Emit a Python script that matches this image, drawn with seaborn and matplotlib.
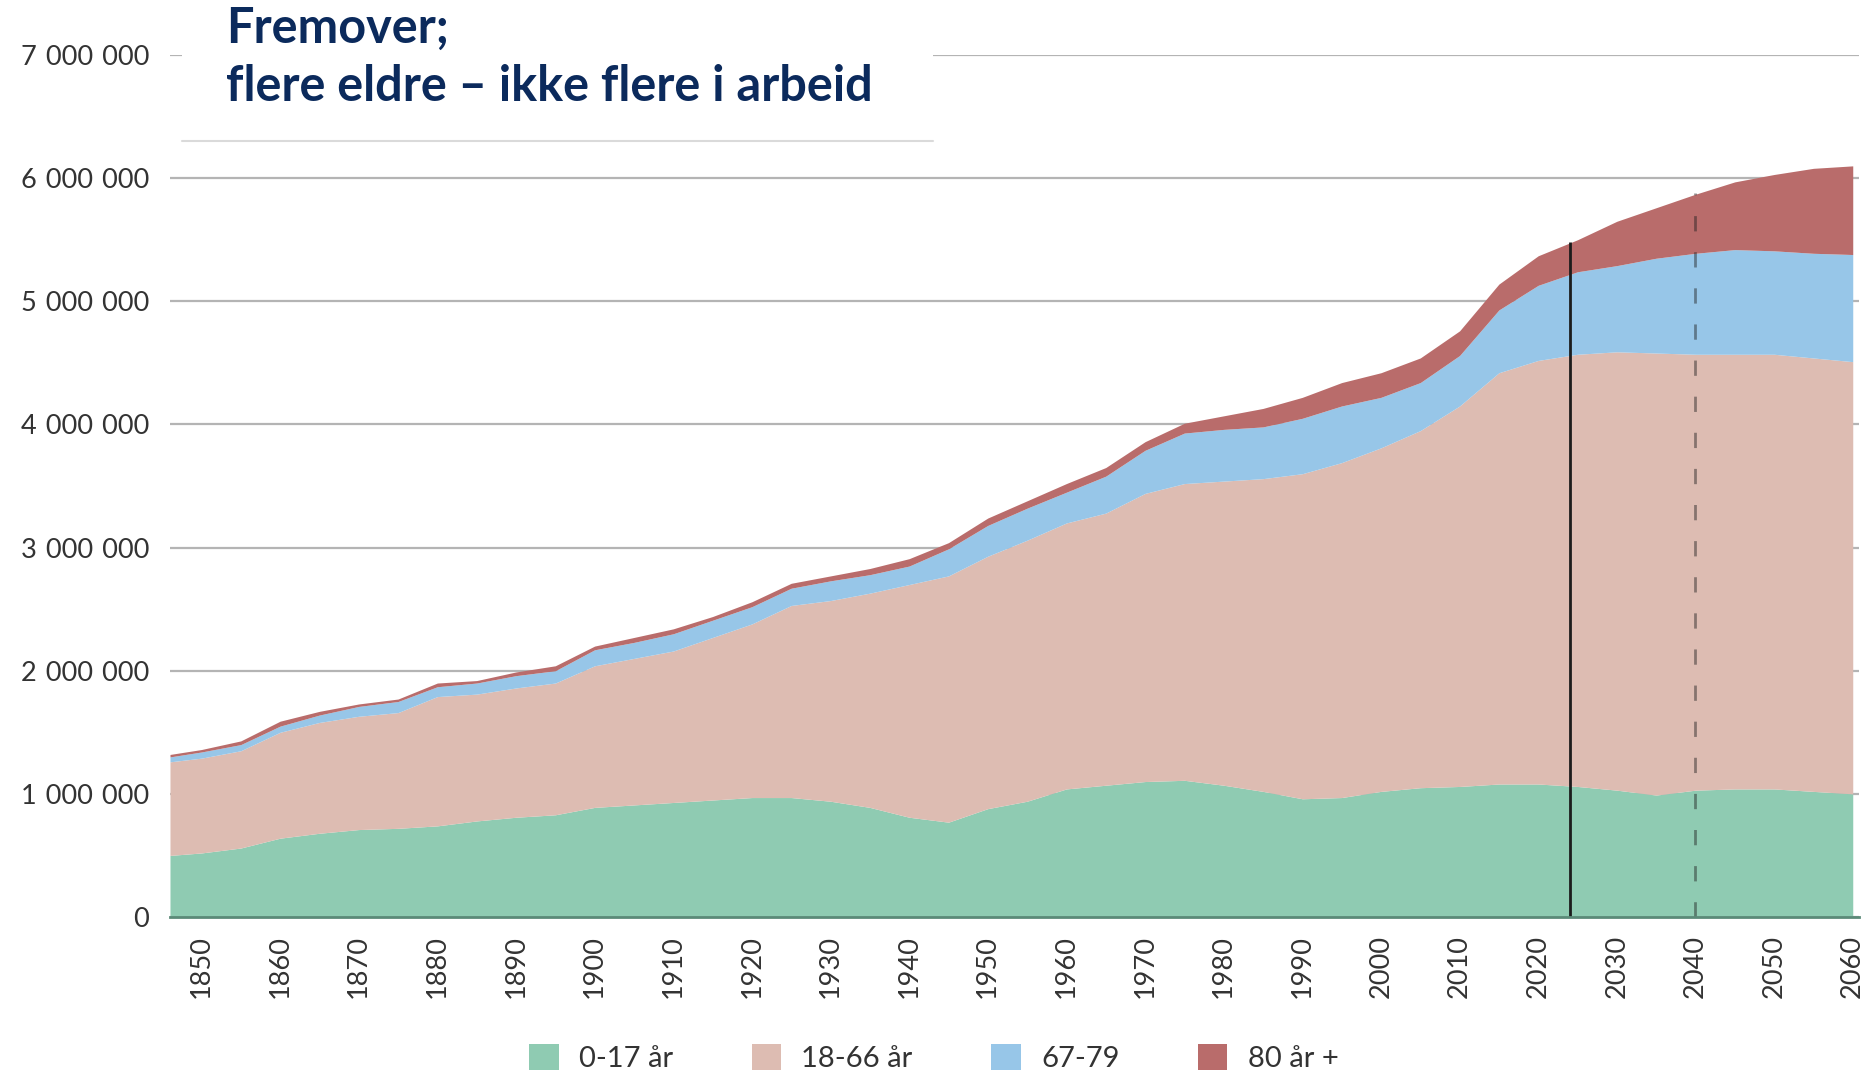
import numpy as np
import matplotlib
matplotlib.use("Agg")
import matplotlib.pyplot as plt
import seaborn as sns
from matplotlib.patches import Rectangle, Patch
from matplotlib.lines import Line2D
from matplotlib.ticker import FuncFormatter

# ----------------------------------------
# DATA  (population by age group, in thousands)
# ----------------------------------------
years = [1846, 1850, 1855, 1860, 1865, 1870, 1875, 1880, 1885, 1890, 1895,
         1900, 1905, 1910, 1915, 1920, 1925, 1930, 1935, 1940, 1945, 1950,
         1955, 1960, 1965, 1970, 1975, 1980, 1985, 1990, 1995, 2000, 2005,
         2010, 2015, 2020, 2025, 2030, 2035, 2040, 2045, 2050, 2055, 2060]

age_0_17 = [500, 520, 560, 640, 680, 710, 720, 740, 780, 810, 830,
            890, 910, 930, 950, 970, 970, 940, 890, 810, 770, 880,
            940, 1040, 1070, 1100, 1110, 1070, 1020, 960, 970, 1020, 1050,
            1060, 1080, 1080, 1060, 1030, 990, 1030, 1040, 1040, 1020, 1000]

age_18_66 = [760, 770, 790, 860, 900, 920, 940, 1050, 1030, 1050, 1070,
             1150, 1190, 1230, 1320, 1410, 1560, 1630, 1740, 1890, 2000, 2050,
             2120, 2160, 2210, 2340, 2410, 2470, 2540, 2640, 2720, 2790, 2900,
             3090, 3340, 3440, 3510, 3560, 3590, 3540, 3530, 3530, 3520, 3510]

age_67_79 = [40, 50, 50, 50, 60, 80, 90, 80, 90, 100, 100,
             130, 130, 140, 140, 140, 140, 160, 150, 150, 220, 250,
             260, 250, 300, 350, 410, 420, 420, 450, 460, 410, 390,
             410, 510, 610, 670, 700, 770, 820, 850, 840, 850, 870]

age_80_plus = [20, 20, 30, 40, 30, 20, 20, 30, 20, 30, 40,
               30, 40, 40, 30, 40, 40, 40, 50, 60, 50, 60,
               60, 70, 70, 70, 80, 110, 150, 170, 190, 200, 200,
               200, 210, 240, 260, 360, 410, 480, 550, 620, 690, 720]

labels = ["0-17 år", "18-66 år", "67-79", "80 år +"]
colors = ["#8fcbb2", "#ddbcb2", "#97c6e8", "#b96c6b"]

# vertical markers: today (solid) and 2040 (dashed), height = total at that year
marker_years = [2024, 2040]
marker_tops = [5480, 5880]

title_lines = ["Fremover;", "flere eldre \u2013 ikke flere i arbeid"]

# ----------------------------------------
# STYLE
# ----------------------------------------
sns.set_theme(style="white")
plt.rcParams["font.family"] = ["Lato", "DejaVu Sans"]

fig = plt.figure(figsize=(18.68, 10.73), dpi=100)
ax = fig.add_axes([0.091, 0.1454, 0.9042, 0.8033])

stack = np.array([age_0_17, age_18_66, age_67_79, age_80_plus]) * 1000
ax.stackplot(years, stack, colors=colors, linewidth=0, zorder=2)

ax.vlines(marker_years[0], 0, marker_tops[0] * 1000, color="#1c1c1c", lw=2.0, zorder=4)
ax.vlines(marker_years[1], 0, marker_tops[1] * 1000, color="#1c1c1c", lw=2.0,
          linestyles=(0, (5.5, 7.5)), alpha=0.45, zorder=4)

ax.set_xlim(1846, 2060.8)
ax.set_ylim(0, 7_000_000)
ax.set_yticks(np.arange(0, 7_000_001, 1_000_000))
ax.set_xticks(np.arange(1850, 2061, 10))
ax.yaxis.set_major_formatter(FuncFormatter(lambda v, p: f"{int(v):,}".replace(",", "\u2004")))

ax.yaxis.grid(True, color="#b4b4b4", lw=1.6)
ax.xaxis.grid(False)
ax.set_axisbelow(True)

for s in ["top", "right", "left"]:
    ax.spines[s].set_visible(False)
ax.spines["bottom"].set_color("#5b8a78")
ax.spines["bottom"].set_linewidth(2)
ax.spines["bottom"].set_zorder(5)

ax.tick_params(axis="x", length=0, pad=13, labelsize=19.5, labelcolor="#333333", labelrotation=90)
ax.tick_params(axis="y", length=0, pad=15, labelsize=19.5, labelcolor="#333333")

# ----------------------------------------
# TITLE BOX
# ----------------------------------------
fig.add_artist(Rectangle((0.0974, 0.8686), 0.4021, 0.14, transform=fig.transFigure,
                         facecolor="white", edgecolor="none", zorder=5))
fig.add_artist(Line2D([0.0974, 0.4995], [0.8686, 0.8686], transform=fig.transFigure,
                      color="#dadada", lw=1.5, zorder=6))
fig.text(0.121, 0.960, title_lines[0], fontsize=35, fontweight="bold",
         color="#0b2a5c", va="baseline", zorder=7)
fig.text(0.121, 0.906, title_lines[1], fontsize=35, fontweight="bold",
         color="#0b2a5c", va="baseline", zorder=7)

# ----------------------------------------
# LEGEND
# ----------------------------------------
handles = [Patch(facecolor=c, edgecolor="none", label=l) for c, l in zip(colors, labels)]
fig.legend(handles=handles, loc="lower center", bbox_to_anchor=(0.5, -0.01), ncol=4,
           frameon=False, fontsize=21, handlelength=1.0, handleheight=1.0,
           columnspacing=2.7, handletextpad=0.7, borderaxespad=0,
           labelcolor="#333333")

plt.savefig("out.png", dpi=100)
